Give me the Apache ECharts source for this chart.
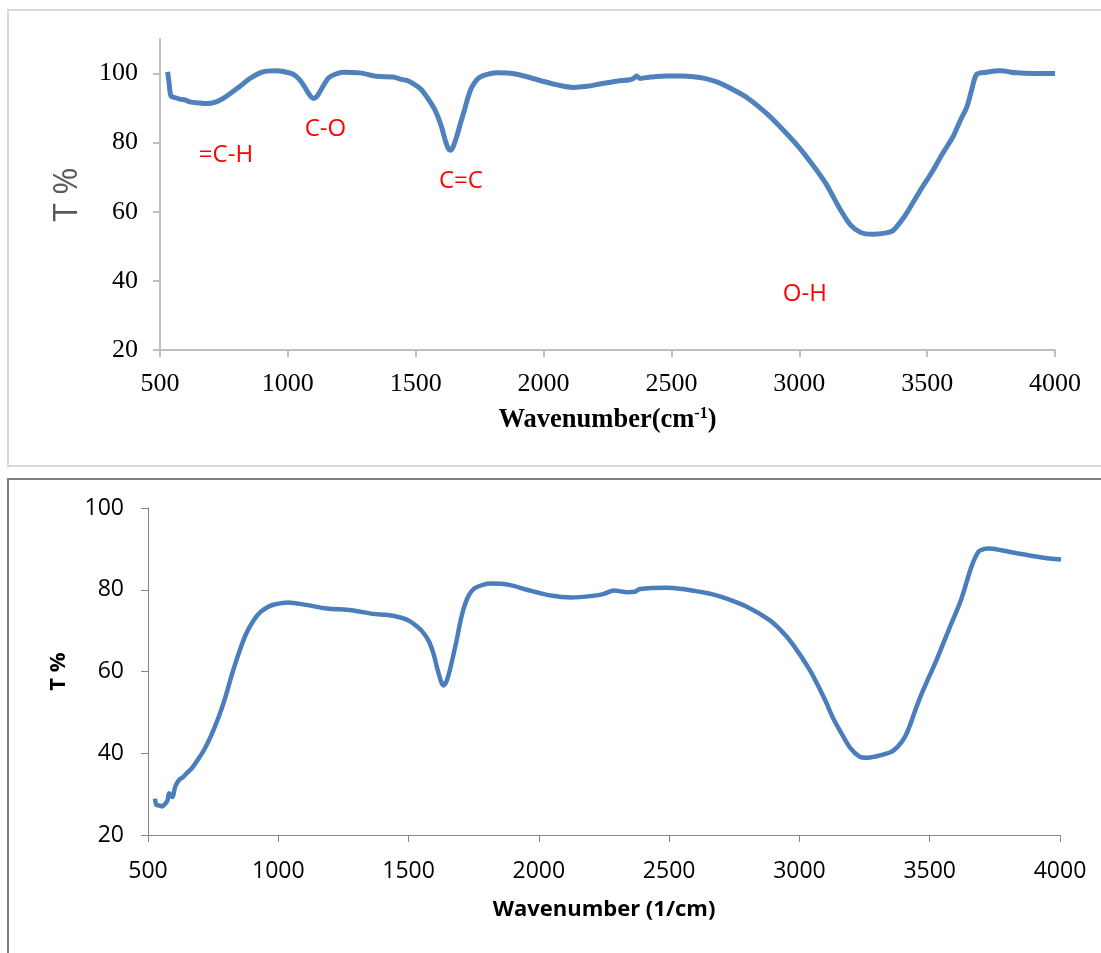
<!DOCTYPE html>
<html lang="en">
<head>
  <meta charset="UTF-8">
  <title>FTIR</title>
  <style>
    html, body { margin: 0; padding: 0; background: #fff; }
    #main { width: 1101px; height: 953px; }
  </style>
</head>
<body>
  <div id="main"></div>
  <script src="https://cdn.jsdelivr.net/npm/echarts@6/dist/echarts.min.js"></script>
  <script>
    // x ticks (both charts)
    var waveTicks = [500, 1000, 1500, 2000, 2500, 3000, 3500, 4000];
    var topYTicks = [20, 40, 60, 80, 100];
    var bottomYTicks = [20, 40, 60, 80, 100];

    // upper spectrum
    var topWave = [530, 536, 543, 560, 578, 600, 617, 650, 683, 720, 747, 780, 813, 850, 891, 917, 950, 982,
      1021, 1045, 1065, 1085, 1100, 1115, 1138, 1160, 1185, 1217, 1282, 1347, 1411, 1439, 1465, 1490, 1520,
      1543, 1565, 1582, 1600, 1615, 1628, 1636, 1645, 1660, 1675, 1690, 1705, 1719, 1740, 1764, 1817, 1895,
      1986, 2050, 2116, 2170, 2221, 2286, 2338, 2352, 2364, 2377, 2420, 2482, 2540, 2586, 2630, 2680, 2742,
      2800, 2873, 2938, 3003, 3060, 3107, 3159, 3200, 3240, 3288, 3340, 3367, 3395, 3420, 3470, 3524, 3560,
      3601, 3630, 3655, 3675, 3694, 3733, 3785, 3850, 3920, 4000];
    var topT = [100.5, 97, 93.5, 93.0, 92.6, 92.3, 91.8, 91.5, 91.3, 91.8, 92.8, 94.5, 96.3, 98.5, 100.2, 100.7, 100.8, 100.6,
      99.8, 98.3, 96.2, 93.8, 92.8, 93.5, 96.4, 98.8, 99.8, 100.4, 100.2, 99.2, 99.0, 98.4, 98.0, 97.1, 95.5,
      93.3, 90.8, 88.4, 84.8, 80.8, 78.2, 77.8, 78.6, 81.7, 85.6, 89.3, 93.2, 96.0, 98.3, 99.4, 100.2, 99.8,
      98.0, 96.8, 96.0, 96.3, 97.0, 97.8, 98.2, 98.6, 99.3, 98.6, 99.0, 99.3, 99.3, 99.1, 98.6, 97.5, 95.3,
      92.8, 88.4, 83.6, 78.3, 72.8, 67.8, 60.8, 56.2, 54.0, 53.5, 53.9, 54.6, 57.0, 59.6, 65.8, 72.1, 76.8,
      81.7, 86.5, 90.3, 95.5, 99.8, 100.4, 100.8, 100.2, 100.0, 100.0];

    // lower spectrum
    var bottomWave = [527, 533, 545, 554, 567, 575, 581, 594, 601, 607, 620, 635, 650, 668, 690, 715, 740, 769,
      796, 823, 850, 877, 905, 931, 960, 985, 1038, 1106, 1187, 1281, 1362, 1420, 1469, 1500, 1523, 1550,
      1577, 1595, 1611, 1625, 1634, 1645, 1657, 1670, 1684, 1698, 1712, 1730, 1752, 1785, 1819, 1887, 1954,
      2045, 2125, 2206, 2250, 2287, 2341, 2368, 2388, 2489, 2550, 2610, 2660, 2718, 2800, 2880, 2930, 2974,
      3041, 3095, 3130, 3162, 3195, 3230, 3260, 3284, 3351, 3380, 3405, 3425, 3445, 3472, 3526, 3575, 3620,
      3660, 3687, 3710, 3728, 3780, 3836, 3930, 4004];
    var bottomT = [28.9, 27.3, 27.2, 27.0, 27.7, 28.5, 30.2, 29.3, 31.0, 32.2, 33.5, 34.2, 35.2, 36.3, 38.3, 40.8, 44.0, 48.5,
      53.5, 59.5, 64.8, 69.3, 72.5, 74.5, 75.8, 76.4, 76.9, 76.3, 75.4, 75.0, 74.1, 73.8, 73.2, 72.5, 71.5, 70.0,
      67.5, 64.5, 60.5, 57.5, 56.6, 57.5, 60.0, 63.5, 67.5, 72.0, 75.5, 78.5, 80.3, 81.2, 81.5, 81.2, 80.0,
      78.6, 78.1, 78.5, 79.0, 79.8, 79.4, 79.5, 80.2, 80.5, 80.2, 79.6, 79.0, 77.9, 75.8, 72.8, 70.0, 66.7,
      60.2, 53.5, 48.5, 44.8, 41.3, 39.2, 38.9, 39.1, 40.3, 41.8, 44.0, 47.0, 50.6, 55.0, 62.8, 70.5, 77.5,
      85.6, 89.3, 90.0, 90.1, 89.6, 88.9, 87.9, 87.4];

    // band labels on the upper chart
    var bandNames = ['=C-H', 'C-O', 'C=C', 'O-H'];
    var bandWave = [758, 1147, 1677, 3022];
    var bandT = [76.4, 83.8, 68.9, 36.2];

    function pairs(xs, ys) {
      var out = [];
      for (var i = 0; i < xs.length; i++) out.push([xs[i], ys[i]]);
      return out;
    }

    var bandMarks = [];
    for (var i = 0; i < bandNames.length; i++) {
      bandMarks.push({ name: bandNames[i], coord: [bandWave[i], bandT[i]] });
    }

    // no thousands separator, like the original
    function plain(v) { return String(v); }

    var serif = 'Liberation Serif';
    var sans = 'Open Sans';

    var myChart = echarts.init(document.getElementById('main'));

    var option = {
      backgroundColor: '#fff',
      animation: false,
      graphic: [
        { type: 'rect', shape: { x: 8, y: 10, width: 1110, height: 456 },
          style: { fill: 'none', stroke: '#d9d9d9', lineWidth: 2 } },
        { type: 'rect', shape: { x: 8, y: 479, width: 1110, height: 500 },
          style: { fill: 'none', stroke: '#7f7f7f', lineWidth: 2 } }
      ],
      grid: [
        { left: 160, top: 39, width: 895, height: 311 },
        { left: 148, top: 508, width: 912, height: 327 }
      ],
      xAxis: [{
        gridIndex: 0,
        type: 'value',
        min: 500, max: 4000, interval: 500,
        axisLine: { lineStyle: { color: '#bfbfbf', width: 2 } },
        axisTick: { show: true, length: 7, lineStyle: { color: '#bfbfbf', width: 2 }, customValues: waveTicks },
        axisLabel: { color: '#000', fontFamily: serif, fontSize: 26, margin: 21, customValues: waveTicks, formatter: plain },
        splitLine: { show: false },
        name: '{a|Wavenumber(cm}{s|-1}{a|)}',
        nameLocation: 'middle',
        nameGap: 56,
        nameTextStyle: {
          rich: {
            a: { fontFamily: serif, fontWeight: 'bold', fontSize: 26.5, color: '#000', lineHeight: 28 },
            s: { fontFamily: serif, fontWeight: 'bold', fontSize: 16, color: '#000', lineHeight: 28, verticalAlign: 'top' }
          }
        }
      }, {
        gridIndex: 1,
        type: 'value',
        min: 500, max: 4000, interval: 500,
        axisLine: { lineStyle: { color: '#868686', width: 1 } },
        axisTick: { show: true, length: 7, lineStyle: { color: '#868686' }, customValues: waveTicks },
        axisLabel: { color: '#000', fontFamily: sans, fontSize: 23, margin: 25, customValues: waveTicks, formatter: plain },
        splitLine: { show: false },
        name: 'Wavenumber (1/cm)',
        nameLocation: 'middle',
        nameGap: 64,
        nameTextStyle: { fontFamily: sans, fontWeight: 'bold', fontSize: 22, color: '#000' }
      }],
      yAxis: [{
        gridIndex: 0,
        type: 'value',
        min: 20, max: 110, interval: 20,
        axisLine: { show: true, lineStyle: { color: '#bfbfbf', width: 2 } },
        axisTick: { show: true, length: 7, lineStyle: { color: '#bfbfbf', width: 2 }, customValues: topYTicks },
        axisLabel: { color: '#000', fontFamily: serif, fontSize: 26, margin: 22, customValues: topYTicks, formatter: plain },
        splitLine: { show: false },
        name: 'T %',
        nameLocation: 'middle',
        nameRotate: 90,
        nameGap: 76,
        nameTextStyle: { fontFamily: sans, fontSize: 33, color: '#595959' }
      }, {
        gridIndex: 1,
        type: 'value',
        min: 20, max: 100, interval: 20,
        axisLine: { show: true, lineStyle: { color: '#868686', width: 1 } },
        axisTick: { show: true, length: 7, lineStyle: { color: '#868686' }, customValues: bottomYTicks },
        axisLabel: { color: '#000', fontFamily: sans, fontSize: 23, margin: 24, customValues: bottomYTicks, formatter: plain },
        splitLine: { show: false },
        name: 'T %',
        nameLocation: 'middle',
        nameRotate: 90,
        nameGap: 78,
        nameTextStyle: { fontFamily: sans, fontWeight: 'bold', fontSize: 22, color: '#000' }
      }],
      series: [{
        type: 'line',
        xAxisIndex: 0,
        yAxisIndex: 0,
        data: pairs(topWave, topT),
        showSymbol: false,
        smooth: 0.3,
        lineStyle: { color: '#4f81bd', width: 5 },
        markPoint: {
          symbol: 'circle',
          symbolSize: 1,
          itemStyle: { color: 'rgba(0,0,0,0)' },
          label: {
            show: true, position: 'inside', formatter: '{b}',
            color: '#ff0000', fontFamily: sans, fontSize: 24
          },
          data: bandMarks
        }
      }, {
        type: 'line',
        xAxisIndex: 1,
        yAxisIndex: 1,
        data: pairs(bottomWave, bottomT),
        showSymbol: false,
        smooth: 0.3,
        lineStyle: { color: '#4a7ebb', width: 4.5 }
      }]
    };

    myChart.setOption(option);
  </script>
</body>
</html>
